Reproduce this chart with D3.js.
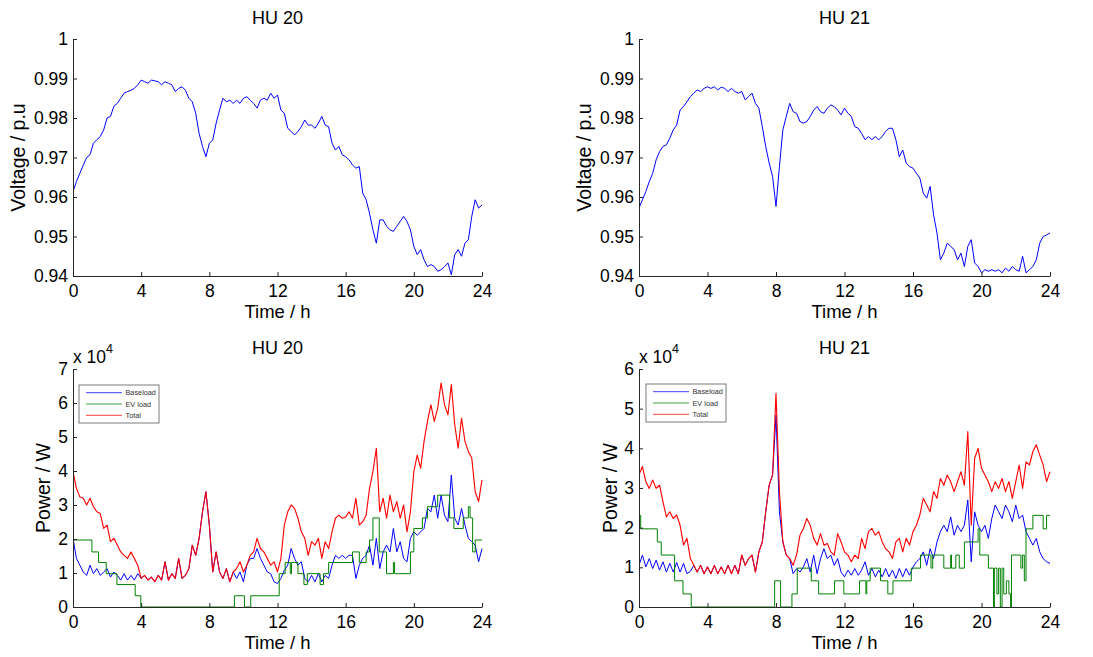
<!DOCTYPE html>
<html>
<head>
<meta charset="utf-8">
<script src="https://cdn.jsdelivr.net/npm/d3@7"></script>
<style>
body { margin: 0; background: #fff; }
svg { display: block; font-family: "Liberation Sans", Arial, sans-serif; }
</style>
</head>
<body>
<svg id="chart" width="1093" height="657"></svg>
<script>
// time axis: one sample every 0.2 h
var hours = d3.range(121).map(function(i) { return i * 0.2; });
var timeTicks = [0, 4, 8, 12, 16, 20, 24];
var voltTicks = [0.94, 0.95, 0.96, 0.97, 0.98, 0.99, 1];
var powerTicks20 = [0, 1, 2, 3, 4, 5, 6, 7];
var powerTicks21 = [0, 1, 2, 3, 4, 5, 6];
var legendNames = ["Baseload", "EV load", "Total"];
var titles = ["HU 20", "HU 21"];

// voltage, p.u.
var voltHU20 = [
  0.9614,0.9639,0.966,0.968,0.970,0.9707,0.9736,0.9745,0.9753,0.977,
  0.980,0.9804,0.983,0.9837,0.985,0.9863,0.9867,0.987,0.9875,0.9884,
  0.9896,0.9892,0.9888,0.9896,0.9894,0.9892,0.9884,0.9892,0.9888,0.9884,
  0.9867,0.9875,0.9879,0.987,0.985,0.9841,0.9812,0.9761,0.9728,0.9702,
  0.9736,0.9744,0.9787,0.982,0.985,0.9841,0.9845,0.9837,0.9845,0.9837,
  0.985,0.9854,0.9845,0.9837,0.9825,0.9845,0.985,0.9845,0.9863,0.985,
  0.9858,0.982,0.9812,0.9774,0.9766,0.9757,0.9766,0.9778,0.9795,0.9782,
  0.9782,0.9774,0.9787,0.9804,0.9782,0.9778,0.9736,0.9719,0.9728,0.9707,
  0.9702,0.9694,0.9681,0.9673,0.9677,0.961,0.9593,0.9559,0.9517,0.9483,
  0.9542,0.9542,0.9526,0.9517,0.9513,0.9526,0.9538,0.9551,0.9538,0.9517,
  0.9475,0.9454,0.9467,0.9441,0.9424,0.9429,0.9424,0.9412,0.9416,0.9424,
  0.9433,0.9403,0.9454,0.9467,0.945,0.9483,0.9492,0.9551,0.9593,0.9572,
  0.958
];
var voltHU21 = [
  0.9572,0.9593,0.9614,0.9639,0.966,0.9694,0.9715,0.9728,0.9732,0.9749,
  0.977,0.9782,0.982,0.9829,0.9841,0.9854,0.9863,0.9871,0.9867,0.9875,
  0.9879,0.9875,0.9879,0.9871,0.9878,0.9875,0.9867,0.9875,0.9867,0.9863,
  0.9867,0.9846,0.9854,0.9863,0.9837,0.9825,0.9778,0.9728,0.9686,0.9652,
  0.9576,0.9677,0.977,0.9804,0.9837,0.9816,0.9812,0.9791,0.9787,0.9791,
  0.9804,0.982,0.9829,0.9816,0.9812,0.9825,0.9833,0.9829,0.982,0.9808,
  0.9825,0.9812,0.9804,0.9778,0.9774,0.9761,0.9745,0.9753,0.9745,0.9753,
  0.9745,0.9753,0.9766,0.9774,0.9774,0.9745,0.9702,0.9719,0.9686,0.9677,
  0.9673,0.966,0.9648,0.961,0.9597,0.9627,0.9555,0.9509,0.9441,0.9458,
  0.9483,0.9475,0.9467,0.9441,0.9458,0.9424,0.9475,0.9492,0.9433,0.9424,
  0.9408,0.9416,0.9412,0.9416,0.9412,0.9416,0.9408,0.942,0.9412,0.9424,
  0.9416,0.9412,0.945,0.9408,0.9416,0.9424,0.9441,0.9483,0.95,0.9504,
  0.9509
];

// power, x 10^4 W
var baseHU20 = [
  2.02,1.43,1.23,1.03,0.93,1.23,0.98,1.13,0.93,1.03,
  1.13,0.88,1.03,0.93,0.79,0.98,0.79,0.93,0.79,0.98,
  0.84,0.93,0.79,0.88,0.74,0.93,0.79,1.33,0.79,0.98,
  0.84,1.43,0.84,0.93,1.13,1.82,1.52,2.02,2.8,3.39,
  2.41,1.03,1.62,1.03,0.84,1.13,0.74,1.03,0.84,1.03,
  0.74,1.23,1.43,1.43,1.72,1.43,1.23,1.03,0.98,0.74,
  0.69,0.84,1.08,1.23,1.72,1.43,1.23,1.33,0.84,0.74,
  0.93,0.74,0.98,0.74,0.93,0.84,1.23,1.52,1.43,1.52,
  1.43,1.52,1.52,0.84,1.23,1.43,1.52,1.82,1.23,2.02,
  1.13,1.62,1.82,1.62,2.31,1.62,1.92,1.43,1.33,2.02,
  2.21,2.11,2.21,2.31,2.9,2.8,3.29,2.61,3.29,2.7,
  2.51,3.88,2.61,2.41,2.9,2.41,2.02,1.92,1.82,1.33,
  1.72
];
var totalHU20 = [
  3.98,3.49,3.24,3.2,3.0,3.2,2.95,2.8,2.75,2.31,
  2.41,1.92,2.02,1.82,1.62,1.52,1.43,1.62,1.43,1.23,
  0.84,0.93,0.79,0.88,0.74,0.93,0.79,1.33,0.79,0.98,
  0.84,1.43,0.84,0.93,1.13,1.82,1.52,2.02,2.8,3.39,
  2.41,1.03,1.62,1.03,0.84,1.13,0.74,1.03,1.13,1.33,
  1.03,1.23,1.52,1.62,2.02,1.72,1.62,1.43,1.23,1.33,
  1.03,1.43,2.41,2.8,3.0,2.9,2.61,2.21,2.02,1.52,
  1.92,1.82,2.02,1.43,1.92,1.72,2.21,2.61,2.7,2.61,
  2.65,2.8,2.61,3.2,2.41,2.51,2.7,3.49,3.98,4.67,
  2.8,3.2,2.61,3.29,2.8,3.1,2.61,3.0,2.21,2.8,
  3.98,4.47,4.08,4.87,5.46,5.95,5.46,5.85,6.59,5.95,
  5.65,6.54,5.36,4.67,5.56,4.87,4.57,4.38,3.39,3.1,
  3.74
];
// EV load steps: [hour, value from that hour on]
var evHU20 = [
  [0,1.97],[1.11,1.62],[1.5,1.31],[1.95,0.98],[2.58,0.66],[3.65,0.33],[3.98,0],
  [9.47,0.33],[10.06,0],[10.43,0.33],[12.1,0.98],[12.45,1.31],[12.75,0.98],[12.82,1.31],
  [13.2,0.98],[13.55,0.66],[13.75,0.98],[14.5,0.66],[14.7,0.98],[15.0,1.31],[16.4,1.62],
  [16.8,1.31],[17.2,1.62],[17.4,1.97],[17.6,2.62],[17.97,1.62],[18.4,0.98],[18.8,1.31],
  [18.87,0.98],[19.8,1.62],[20.0,2.31],[20.5,2.62],[20.8,2.95],[21.4,3.29],[22.1,2.62],
  [22.35,2.31],[22.9,2.62],[23.2,2.95],[23.3,2.62],[23.45,1.62],[23.6,1.97],[24,1.97]
];

var baseHU21 = [
  1.05,1.31,1.01,1.22,0.97,1.18,0.93,1.14,0.88,1.1,
  0.88,1.12,0.88,1.1,0.84,0.9,1.05,0.88,1.05,0.84,
  1.01,0.84,1.05,0.84,1.01,0.84,1.05,0.84,1.05,0.84,
  1.31,1.05,1.22,1.31,0.88,1.39,1.64,2.4,3.07,3.33,
  4.84,2.4,1.64,1.31,1.22,0.84,0.97,0.88,1.01,1.22,
  0.88,1.31,0.84,1.22,1.47,1.22,1.31,1.05,1.22,0.88,
  0.76,0.93,0.8,0.97,0.8,0.93,1.14,0.8,0.97,0.76,
  0.93,0.76,0.97,0.76,0.93,0.72,0.97,0.76,0.97,0.8,
  1.01,1.14,1.22,1.39,1.05,1.47,1.22,1.64,1.9,2.06,
  1.9,2.27,1.81,2.06,1.9,2.06,2.7,1.14,2.4,2.06,
  1.9,2.06,1.73,2.23,2.57,2.4,2.23,2.57,2.4,2.15,
  2.57,2.23,2.32,1.9,1.73,1.56,1.73,1.39,1.22,1.14,
  1.1
];
var totalHU21 = [
  3.33,3.54,3.16,2.99,3.2,2.99,3.07,2.65,2.27,2.4,
  2.23,2.32,2.06,1.56,1.73,1.22,1.05,0.88,1.05,0.84,
  1.01,0.84,1.05,0.84,1.01,0.84,1.05,0.84,1.05,0.84,
  1.31,1.05,1.22,1.31,0.88,1.39,1.64,2.4,3.07,3.33,
  5.39,2.91,1.64,1.31,1.22,1.05,1.31,1.81,1.98,2.23,
  2.06,1.73,1.56,1.85,1.56,1.6,1.39,1.31,1.85,1.64,
  1.39,1.31,1.14,1.31,1.22,1.73,1.47,1.9,1.98,1.81,
  1.9,1.64,1.47,1.39,1.22,1.64,1.73,1.39,1.73,1.56,
  1.9,2.06,2.32,2.74,2.57,2.4,2.91,2.74,3.24,3.07,
  3.33,3.16,2.91,3.16,3.41,3.07,4.42,2.06,3.75,4.0,
  3.5,3.33,3.16,2.91,3.16,2.99,3.24,2.91,3.16,2.74,
  3.16,3.58,2.99,3.66,3.58,3.92,4.09,3.83,3.58,3.16,
  3.41
];
var evHU21 = [
  [0,2.31],[0.1,1.97],[1.07,1.64],[1.3,1.31],[2.08,0.66],[2.57,0.33],[3.05,0],
  [7.92,0.66],[8.27,0],[8.93,0.33],[9.24,0.98],[10.06,0.66],[10.49,0.33],[11.42,0.66],
  [11.96,0.33],[12.88,0.66],[13.25,0.33],[13.3,0.66],[13.5,0.98],[14.1,0.66],[14.53,0.33],
  [14.83,0.66],[15.9,0.98],[16.44,1.31],[17.05,0.98],[17.15,1.31],[17.8,0.98],[18.2,1.31],
  [18.25,0.98],[18.5,1.31],[18.7,0.98],[19.0,1.64],[19.8,1.97],[19.9,1.31],[20.4,0.98],
  [20.7,0],[20.75,0.98],[20.9,0.33],[21.0,0.98],[21.1,0],[21.2,0.98],[21.3,0.33],
  [21.45,0.66],[21.6,0.33],[21.7,0],[21.75,1.31],[22.3,0.98],[22.4,1.31],[22.5,0.66],
  [22.6,1.97],[23.0,2.31],[23.6,1.97],[23.8,2.31],[24,2.31]
];

var blue = "#0000ff", green = "#008000", red = "#ff0000";
var axisColor = "#262626";

function zip(values) {
    return hours.map(function(t, i) { return [t, values[i]]; });
}
function voltFormat(v) { return String(+v.toFixed(2)); }

var svg = d3.select("#chart");
svg.append("rect").attr("width", 1093).attr("height", 657).attr("fill", "#fff");

var panels = [
    { id: 0, left: 73, right: 482, top: 39, bottom: 276, title: titles[0],
      yDomain: [0.94, 1], yTicks: voltTicks, fmt: voltFormat,
      ylabel: "Voltage / p.u", ylabelX: 25,
      series: [{ data: zip(voltHU20), color: blue }] },
    { id: 1, left: 639, right: 1050, top: 39, bottom: 276, title: titles[1],
      yDomain: [0.94, 1], yTicks: voltTicks, fmt: voltFormat,
      ylabel: "Voltage / p.u", ylabelX: 591,
      series: [{ data: zip(voltHU21), color: blue }] },
    { id: 2, left: 73, right: 482, top: 369, bottom: 607, title: titles[0],
      yDomain: [0, 7], yTicks: powerTicks20, fmt: d3.format("d"),
      ylabel: "Power / W", ylabelX: 50, exponent: true,
      legend: { x: 79, y: 385 },
      series: [{ data: zip(baseHU20), color: blue },
               { data: evHU20, color: green, step: true },
               { data: zip(totalHU20), color: red, width: 1.12 }] },
    { id: 3, left: 639, right: 1050, top: 369, bottom: 607, title: titles[1],
      yDomain: [0, 6], yTicks: powerTicks21, fmt: d3.format("d"),
      ylabel: "Power / W", ylabelX: 617, exponent: true,
      legend: { x: 646, y: 384 },
      series: [{ data: zip(baseHU21), color: blue },
               { data: evHU21, color: green, step: true },
               { data: zip(totalHU21), color: red, width: 1.12 }] }
];

panels.forEach(function(p) {
    var x = d3.scaleLinear().domain([0, 24]).range([p.left, p.right]);
    var y = d3.scaleLinear().domain(p.yDomain).range([p.bottom, p.top]);
    var g = svg.append("g");

    svg.append("clipPath").attr("id", "clip" + p.id)
        .append("rect")
        .attr("x", p.left).attr("y", p.top - 1)
        .attr("width", p.right - p.left + 1).attr("height", p.bottom - p.top + 1);

    var plot = g.append("g").attr("clip-path", "url(#clip" + p.id + ")");
    p.series.forEach(function(s) {
        var line = d3.line().x(function(d) { return x(d[0]); }).y(function(d) { return y(d[1]); });
        if (s.step) line.curve(d3.curveStepAfter);
        plot.append("path").datum(s.data)
            .attr("d", line)
            .attr("fill", "none")
            .attr("stroke", s.color)
            .attr("stroke-width", s.width || 1)
            .attr("stroke-linejoin", "round");
    });

    // axes, ticks pointing inwards like matlab
    var xAxis = d3.axisBottom(x).tickValues(timeTicks).tickFormat(d3.format("d"))
        .tickSizeInner(-4).tickSizeOuter(0).tickPadding(9);
    var yAxis = d3.axisLeft(y).tickValues(p.yTicks).tickFormat(p.fmt)
        .tickSizeInner(-4).tickSizeOuter(0).tickPadding(5);

    [g.append("g").attr("transform", "translate(0," + p.bottom + ")").call(xAxis),
     g.append("g").attr("transform", "translate(" + p.left + ",0)").call(yAxis)]
    .forEach(function(a) {
        a.attr("font-size", 17.5).attr("font-family", null);
        a.selectAll(".domain, .tick line").attr("stroke", axisColor);
        a.selectAll("text").attr("fill", "#000");
    });

    var cx = (p.left + p.right) / 2;
    g.append("text").attr("x", cx).attr("y", p.top - 15)
        .attr("text-anchor", "middle").attr("font-size", 18).text(p.title);
    g.append("text").attr("x", cx).attr("y", p.bottom + 42)
        .attr("text-anchor", "middle").attr("font-size", 18.5).text("Time / h");
    g.append("text")
        .attr("transform", "translate(" + p.ylabelX + "," + ((p.top + p.bottom) / 2) + ") rotate(-90)")
        .attr("text-anchor", "middle").attr("font-size", 19.5).text(p.ylabel);

    if (p.exponent) {
        var ex = g.append("text").attr("x", p.left).attr("y", p.top - 6).attr("font-size", 17.5);
        ex.append("tspan").text("x 10");
        ex.append("tspan").attr("font-size", 12.5).attr("dy", -10).text("4");
    }

    if (p.legend) {
        var lg = g.append("g").attr("transform", "translate(" + p.legend.x + "," + p.legend.y + ")");
        lg.append("rect").attr("width", 80).attr("height", 38)
            .attr("fill", "#fff").attr("stroke", "#7a7a7a").attr("stroke-width", 1);
        var row = lg.selectAll(".entry").data(legendNames).enter().append("g")
            .attr("transform", function(d, i) { return "translate(0," + (7.7 + i * 11.3) + ")"; });
        row.append("line").attr("x1", 7).attr("x2", 43)
            .attr("stroke", function(d, i) { return [blue, green, red][i]; })
            .attr("stroke-width", 1).attr("opacity", 0.75);
        row.append("text").attr("x", 46.5).attr("dy", "0.35em")
            .attr("font-size", 7.3).attr("fill", "#333").text(function(d) { return d; });
    }
});
</script>
</body>
</html>
